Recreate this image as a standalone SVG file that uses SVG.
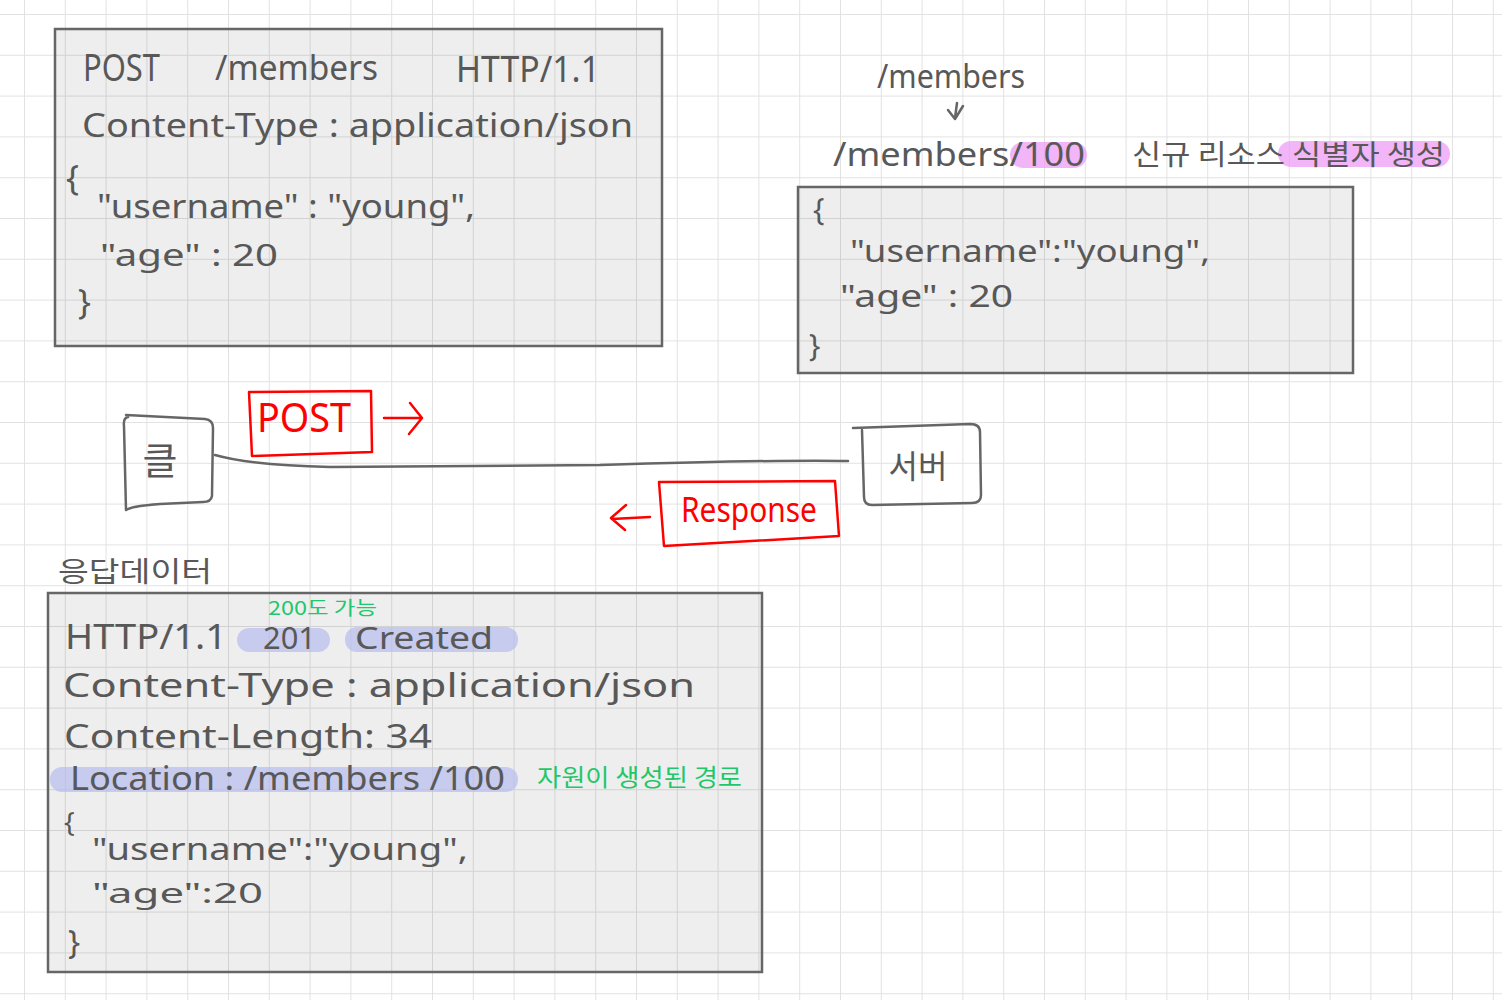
<svg xmlns="http://www.w3.org/2000/svg" width="1502" height="1000" viewBox="0 0 1502 1000">
<defs>
<pattern id="grid" patternUnits="userSpaceOnUse" x="24" y="14" width="40.8" height="40.8">
<path d="M0,0 H40.8 M0,0 V40.8" fill="none" stroke="#e2e2e2" stroke-width="2"/>
</pattern>
</defs>
<style>
.t{font-family:"Noto Sans","Noto Sans CJK KR",sans-serif;fill:#585858}
.k{font-family:"Noto Sans CJK KR","Noto Sans",sans-serif;fill:#585858}
.g{font-family:"Noto Sans CJK KR","Noto Sans",sans-serif;fill:#1ec86a}
.r{font-family:"Noto Sans","Noto Sans CJK KR",sans-serif;fill:#ff0000}
.box{fill:#000;fill-opacity:0.065;stroke:#666;stroke-width:2.5}
.hand{fill:none;stroke:#666;stroke-width:2.5;stroke-linecap:round;stroke-linejoin:round}
.red{fill:none;stroke:#ff0000;stroke-width:2.5;stroke-linecap:round;stroke-linejoin:round}
.hp{fill:#ee9cf6;fill-opacity:0.75}
.hb{fill:#b6bcee;fill-opacity:0.7}
</style>
<rect width="1502" height="1000" fill="#fff"/>
<rect width="1502" height="1000" fill="url(#grid)"/>

<g id="request-message">
<rect class="box" x="55" y="29" width="607" height="317"/>
<text class="t" x="83" y="81" font-size="38" textLength="77" lengthAdjust="spacingAndGlyphs">POST</text>
<text class="t" x="215" y="80" font-size="34" textLength="163" lengthAdjust="spacingAndGlyphs">/members</text>
<text class="t" x="456" y="82" font-size="36" textLength="144" lengthAdjust="spacingAndGlyphs">HTTP/1.1</text>
<text class="t" x="82" y="137" font-size="33" textLength="551" lengthAdjust="spacingAndGlyphs">Content-Type : application/json</text>
<text class="t" x="66" y="190" font-size="34">{</text>
<text class="t" x="97" y="218" font-size="33" textLength="378" lengthAdjust="spacingAndGlyphs">"username" : "young",</text>
<text class="t" x="100" y="266" font-size="30" textLength="178" lengthAdjust="spacingAndGlyphs">"age" : 20</text>
<text class="t" x="78" y="314" font-size="34">}</text>
</g>

<g id="uri-note">
<text class="t" x="877" y="88" font-size="32" textLength="148" lengthAdjust="spacingAndGlyphs">/members</text>
<path class="hand" d="M957,103 L955,118 M948,110 L955,119 L963,106" stroke-width="2"/>
<rect class="hp" x="1010" y="142" width="77" height="26" rx="13"/>
<rect class="hp" x="1278" y="141" width="172" height="26" rx="13"/>
<text class="t" x="833" y="166" font-size="32" textLength="252" lengthAdjust="spacingAndGlyphs">/members/100</text>
<text class="k" x="1132" y="165" font-size="28" textLength="313" lengthAdjust="spacingAndGlyphs">신규 리소스 식별자 생성</text>
</g>

<g id="stored-resource">
<rect class="box" x="798" y="187" width="555" height="186"/>
<text class="t" x="813" y="220" font-size="30">{</text>
<text class="t" x="850" y="262" font-size="31" textLength="360" lengthAdjust="spacingAndGlyphs">"username":"young",</text>
<text class="t" x="840" y="307" font-size="30" textLength="173" lengthAdjust="spacingAndGlyphs">"age" : 20</text>
<text class="t" x="809" y="356" font-size="30">}</text>
</g>

<g id="connectors">
<path class="hand" d="M215,455 C240,462 280,466 330,467 L600,465 C700,462 800,460 848,461"/>
<path class="red" d="M384,418 L422,418 M410,403 L422,418 L409,434"/>
<path class="red" d="M650,517 L612,519 M626,505 L611,518 L625,530"/>
</g>

<g id="client">
<path class="hand" d="M126,415 L205,419 Q213,420 213,428 L212,496 Q211,502 203,502 L160,504 Q132,506 126,510 L124,426 Q123,418 128,417"/>
<text class="k" x="160" y="474" font-size="38" text-anchor="middle">클</text>
</g>

<g id="server">
<path class="hand" d="M853,428 L970,424 Q980,424 980,432 L981,495 Q981,503 972,503 L872,505 Q864,505 864,497 L862,430"/>
<text class="k" x="918" y="478" font-size="32" text-anchor="middle">서버</text>
</g>

<g id="post-label">
<path class="red" d="M249,392 L371,391 L372,452 L252,456 Z" stroke-width="3"/>
<text class="r" x="257" y="432" font-size="40" textLength="94" lengthAdjust="spacingAndGlyphs">POST</text>
</g>

<g id="response-label">
<path class="red" d="M659,482 L835,481 L839,536 L664,546 Z" stroke-width="3"/>
<text class="r" x="681" y="522" font-size="34" textLength="136" lengthAdjust="spacingAndGlyphs">Response</text>
</g>

<g id="response-message">
<text class="k" x="58" y="582" font-size="28" textLength="154" lengthAdjust="spacingAndGlyphs">응답데이터</text>
<rect class="box" x="48" y="593" width="714" height="379"/>
<rect class="hb" x="237" y="628" width="93" height="24" rx="12"/>
<rect class="hb" x="345" y="627" width="173" height="25" rx="12"/>
<rect class="hb" x="50" y="767" width="468" height="25" rx="12"/>
<text class="g" x="268" y="615" font-size="19" textLength="109" lengthAdjust="spacingAndGlyphs">200도 가능</text>
<text class="t" x="65" y="649" font-size="34" textLength="162" lengthAdjust="spacingAndGlyphs">HTTP/1.1</text>
<text class="t" x="263" y="649" font-size="31" textLength="53" lengthAdjust="spacingAndGlyphs">201</text>
<text class="t" x="355" y="649" font-size="31" textLength="138" lengthAdjust="spacingAndGlyphs">Created</text>
<text class="t" x="63" y="697" font-size="32" textLength="632" lengthAdjust="spacingAndGlyphs">Content-Type : application/json</text>
<text class="t" x="64" y="748" font-size="32" textLength="368" lengthAdjust="spacingAndGlyphs">Content-Length: 34</text>
<text class="t" x="70" y="790" font-size="32" textLength="435" lengthAdjust="spacingAndGlyphs">Location : /members /100</text>
<text class="g" x="537" y="786" font-size="24" textLength="205" lengthAdjust="spacingAndGlyphs">자원이 생성된 경로</text>
<text class="t" x="64" y="832" font-size="28">{</text>
<text class="t" x="92" y="860" font-size="30" textLength="376" lengthAdjust="spacingAndGlyphs">"username":"young",</text>
<text class="t" x="92" y="903" font-size="28" textLength="171" lengthAdjust="spacingAndGlyphs">"age":20</text>
<text class="t" x="68" y="954" font-size="32">}</text>
</g>
</svg>
